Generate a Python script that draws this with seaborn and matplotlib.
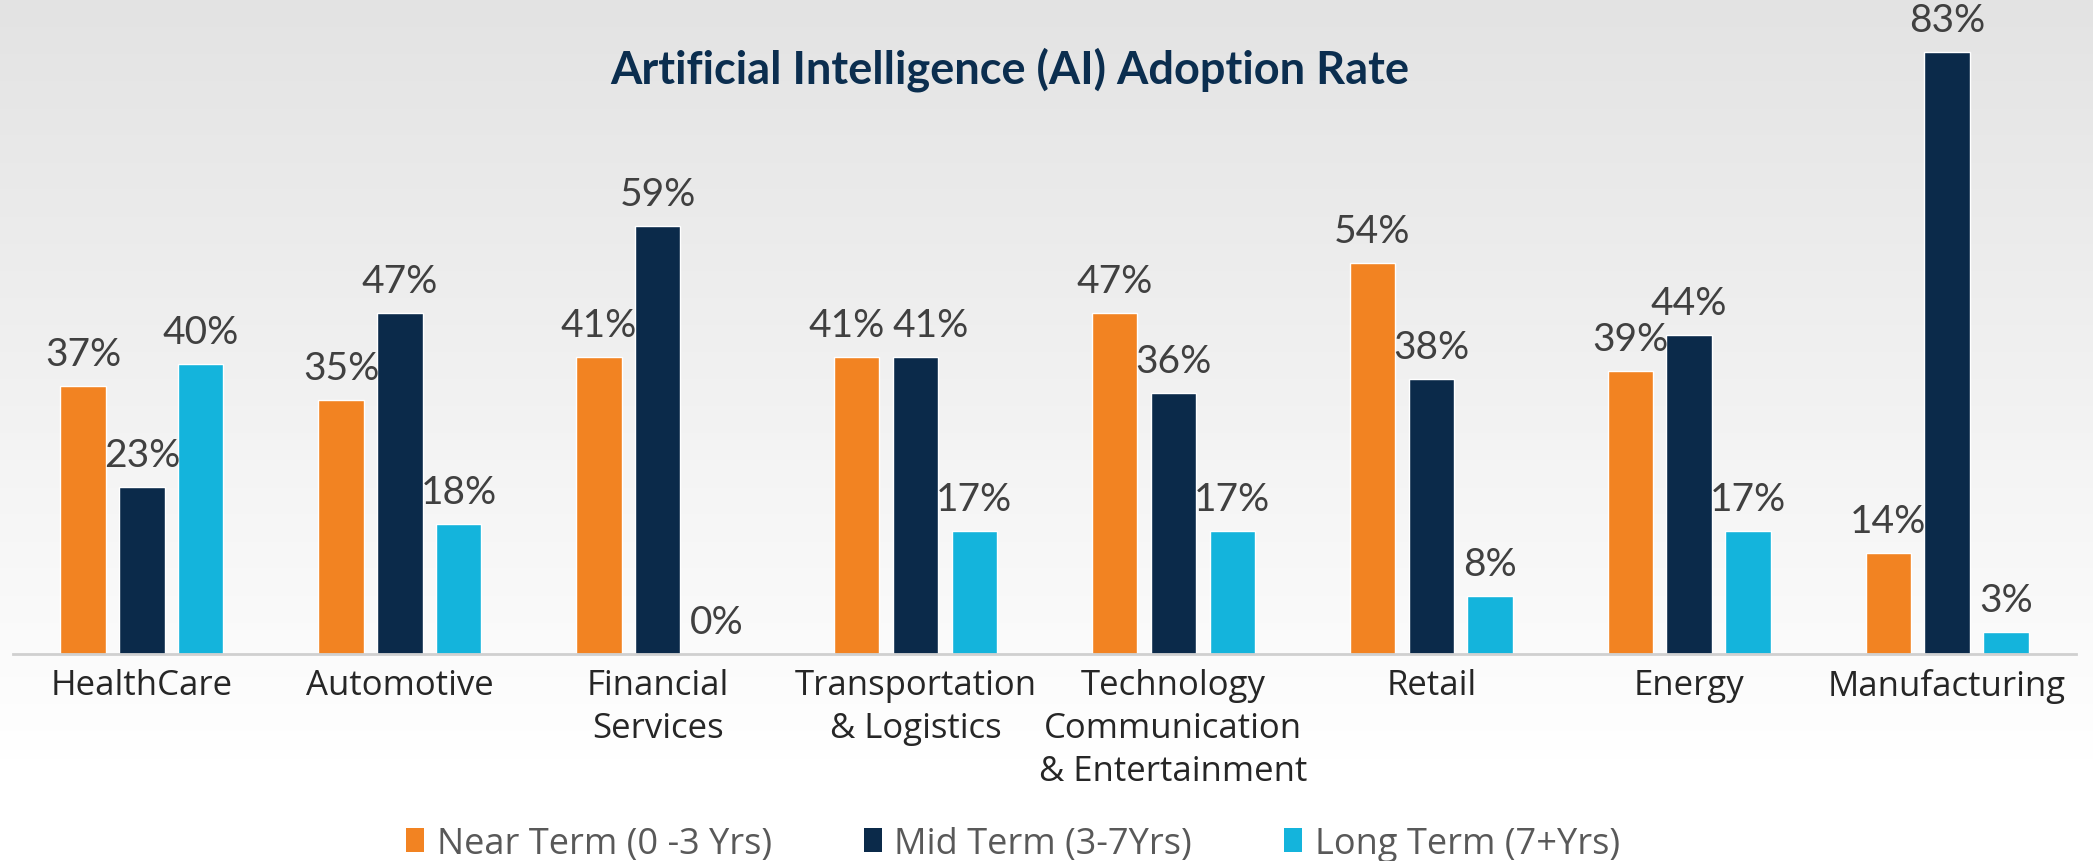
import numpy as np
import pandas as pd
import matplotlib
matplotlib.use("Agg")
import matplotlib.pyplot as plt
from matplotlib.patches import Patch
import seaborn as sns

categories = ["HealthCare", "Automotive", "Financial\nServices", "Transportation\n& Logistics",
              "Technology\nCommunication\n& Entertainment", "Retail", "Energy", "Manufacturing"]
series_names = ["Near Term (0 -3 Yrs)", "Mid Term (3-7Yrs)", "Long Term (7+Yrs)"]
near_term = [37, 35, 41, 41, 47, 54, 39, 14]
mid_term = [23, 47, 59, 41, 36, 38, 44, 83]
long_term = [40, 18, 0, 17, 17, 8, 17, 3]
colors = ["#F28322", "#0B2A4A", "#14B4DC"]

rows = []
for name, vals in zip(series_names, [near_term, mid_term, long_term]):
    for c, v in zip(categories, vals):
        rows.append({"Industry": c, "Term": name, "Rate": v})
df = pd.DataFrame(rows)

sns.set_theme(style="white")
plt.rcParams['font.family'] = ['Open Sans', 'DejaVu Sans']

W, H = 2093, 862
fig = plt.figure(figsize=(W / 100, H / 100), dpi=100)

# gradient background
bg = fig.add_axes([0, 0, 1, 1], zorder=-10)
grad = np.linspace(0, 1, 400)
top = np.array([227, 227, 227]) / 255
bot = np.array([255, 255, 255]) / 255
t = np.clip(grad / (760 / 862), 0, 1)
img = (top[None, :] * (1 - t[:, None]) + bot[None, :] * t[:, None])
bg.imshow(img[:, None, :].repeat(2, axis=1), aspect="auto", extent=[0, 1, 0, 1], origin="upper")
bg.set_axis_off()

left = 13 / W
right = 2076 / W
bottom = 1 - 655 / H
ax = fig.add_axes([left, bottom, right - left, 1 - bottom])
ax.patch.set_alpha(0)

sns.barplot(data=df, x="Industry", y="Rate", hue="Term", palette=colors,
            width=0.684, gap=0.227, ax=ax, legend=False, saturation=1, errorbar=None)

ax.set_xlim(-0.5, 7.5)
ax.set_ylim(0, 655 / 7.25)
for s in ["top", "right", "left"]:
    ax.spines[s].set_visible(False)
ax.spines["bottom"].set_color("#d0d0d0")
ax.spines["bottom"].set_linewidth(2)
ax.set_yticks([])
ax.set_xlabel("")
ax.set_ylabel("")
ax.tick_params(axis="x", length=0, pad=10, labelsize=25, colors="#262626")
for lbl in ax.get_xticklabels():
    lbl.set_linespacing(1.35)
    lbl.set_multialignment("center")

# small horizontal nudges (points) so touching labels stay readable
nudge = {(0, 3): -7, (1, 3): 11}
for si, cont in enumerate(ax.containers):
    for ci, (bar, v) in enumerate(zip(cont.patches, cont.datavalues)):
        x = bar.get_x() + bar.get_width() / 2
        ax.annotate(f"{int(v)}%", (x, bar.get_height()),
                    xytext=(nudge.get((si, ci), 0), 10), textcoords="offset points",
                    ha="center", va="bottom", fontsize=28, color="#404040",
                    family=["Lato", "DejaVu Sans"])

fig.text(1010 / W, 1 - 70 / H, "Artificial Intelligence (AI) Adoption Rate",
         ha="center", va="center", fontsize=32.5, fontweight="bold", color="#0B2E4F",
         family=["Lato", "DejaVu Sans"])

handles = [Patch(facecolor=c, edgecolor="none") for c in colors]
fig.legend(handles, series_names, loc="center", bbox_to_anchor=(0.484, 1 - 845 / H),
           ncol=3, frameon=False, fontsize=26, handlelength=0.5, handleheight=0.65,
           handletextpad=0.35, columnspacing=2.55, labelcolor="#595959")

fig.savefig("out.png", dpi=100)
